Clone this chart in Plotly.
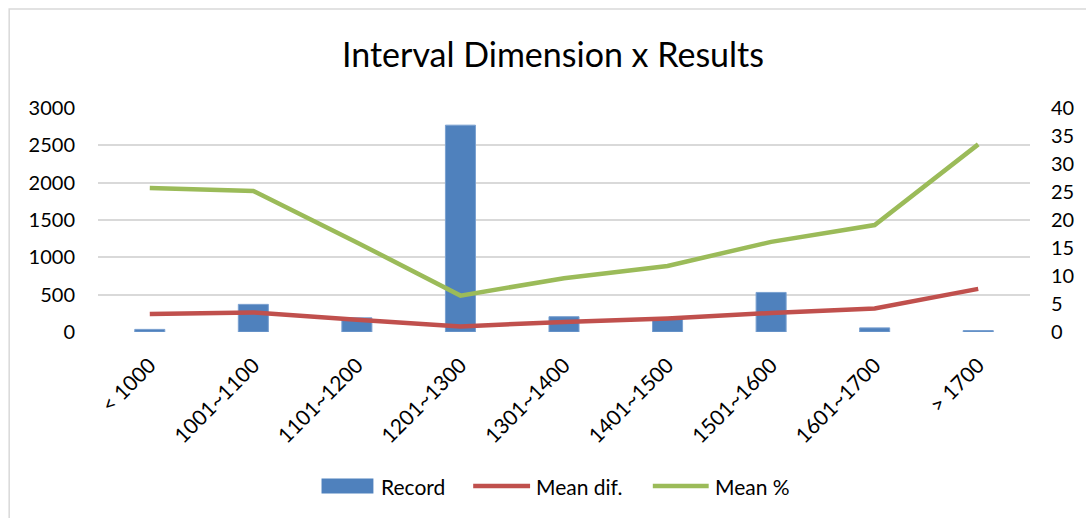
import plotly.graph_objects as go

# Interval categories and series values
categories = ["< 1000", "1001~1100", "1101~1200", "1201~1300", "1301~1400",
              "1401~1500", "1501~1600", "1601~1700", "> 1700"]
record = [35, 370, 190, 2770, 205, 175, 530, 55, 20]
mean_dif = [3.2, 3.5, 2.2, 1.0, 1.8, 2.4, 3.4, 4.2, 7.7]
mean_pct = [25.7, 25.2, 16.0, 6.5, 9.6, 11.8, 16.1, 19.1, 33.5]

left_ticks = [0, 500, 1000, 1500, 2000, 2500, 3000]
right_ticks = [0, 5, 10, 15, 20, 25, 30, 35, 40]

BLUE, RED, GREEN = "#4f81bd", "#c0504d", "#9bbb59"
FONT = "Lato"
W, H = 1086, 518
L, R, T, B = 98, 54, 108, 186
plot_w, plot_h = W - L - R, H - T - B


def px_x(x):
    return (x - L) / plot_w


def px_y(y):
    return (H - B - y) / plot_h


fig = go.Figure()
fig.add_trace(go.Bar(
    x=categories, y=record, name="Record",
    marker=dict(color=BLUE, line=dict(color="#7aa0d0", width=1)),
    yaxis="y",
))
fig.add_trace(go.Scatter(
    x=categories, y=mean_dif, name="Mean dif.", mode="lines",
    line=dict(color=RED, width=4.5), yaxis="y2",
))
fig.add_trace(go.Scatter(
    x=categories, y=mean_pct, name="Mean %", mode="lines",
    line=dict(color=GREEN, width=4.5), yaxis="y2",
))

fig.update_layout(
    width=W, height=H,
    margin=dict(l=L, r=R, t=T, b=B, pad=0),
    paper_bgcolor="white", plot_bgcolor="white",
    font=dict(family=FONT, color="#000000", size=20),
    title=dict(text="Interval Dimension x Results", x=553 / W, xanchor="center",
               xref="container", y=1 - 55 / H, yanchor="middle", yref="container",
               font=dict(family=FONT, size=34, color="#000000")),
    bargap=0.71,
    showlegend=False,
    xaxis=dict(type="category", tickangle=-45, showgrid=False, showline=False,
               ticks="", tickfont=dict(size=21), zeroline=False,
               ticklabelstandoff=16, ticklabelshift=0),
    yaxis=dict(range=[0, 3000], tickvals=left_ticks, showgrid=True,
               gridcolor="#d9d9d9", gridwidth=1.5, zeroline=False, showline=False,
               ticks="", ticklabelstandoff=22, tickfont=dict(size=20)),
    yaxis2=dict(range=[0, 40], tickvals=right_ticks, overlaying="y", side="right",
                showgrid=False, zeroline=False, showline=False, ticks="",
                ticklabelstandoff=20, tickfont=dict(size=20)),
    hovermode=False,
)

# Chart frame (top and left edges sit inside the canvas)
fig.add_shape(type="rect", xref="paper", yref="paper",
              x0=px_x(9), x1=px_x(W + 20), y0=px_y(H + 20), y1=px_y(9),
              line=dict(color="#d9d9d9", width=1.5), layer="below")

# Legend row below the axis labels
LEG_Y = 486
legend_items = [
    ("Record", "rect", BLUE, 322, 374, 380),
    ("Mean dif.", "line", RED, 474, 531, 535),
    ("Mean %", "line", GREEN, 654, 710, 714),
]
for label, kind, color, sx0, sx1, tx in legend_items:
    if kind == "rect":
        fig.add_shape(type="rect", xref="paper", yref="paper",
                      x0=px_x(sx0), x1=px_x(sx1),
                      y0=px_y(LEG_Y + 7.5), y1=px_y(LEG_Y - 7.5),
                      fillcolor=color, line=dict(width=0))
    else:
        fig.add_shape(type="line", xref="paper", yref="paper",
                      x0=px_x(sx0), x1=px_x(sx1), y0=px_y(LEG_Y), y1=px_y(LEG_Y),
                      line=dict(color=color, width=4.5))
    fig.add_annotation(text=label, xref="paper", yref="paper",
                       x=px_x(tx), y=px_y(LEG_Y), xanchor="left", yanchor="middle",
                       showarrow=False, font=dict(family=FONT, size=21, color="#000000"))

fig.write_html("out.html")
